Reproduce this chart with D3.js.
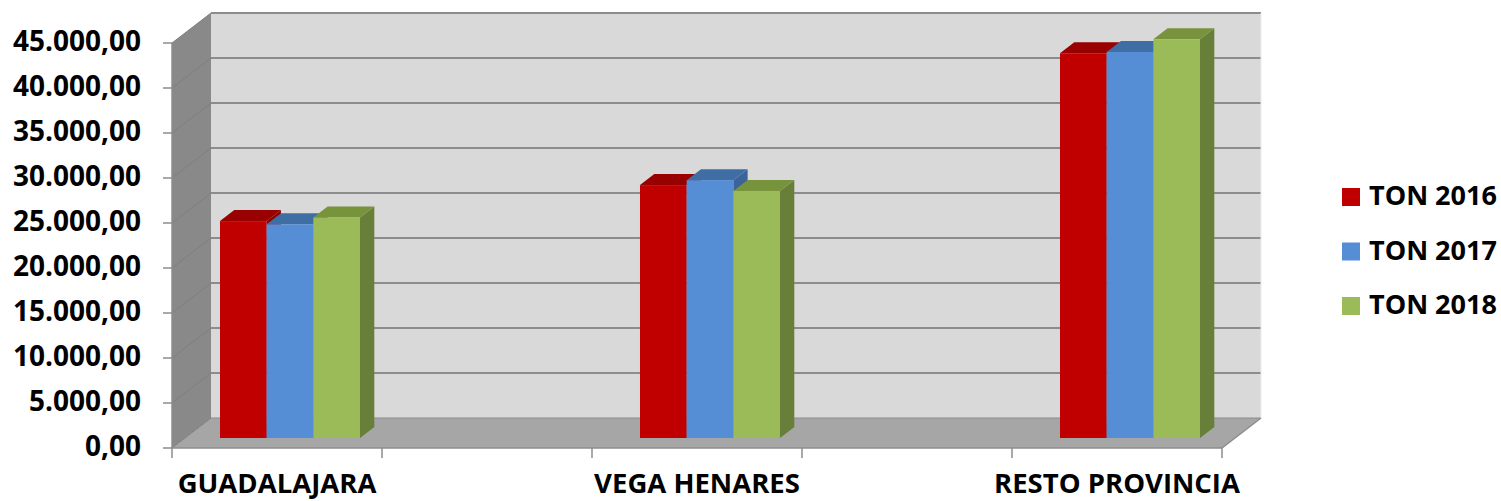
<!DOCTYPE html>
<html>
<head>
<meta charset="utf-8">
<script src="https://cdn.jsdelivr.net/npm/d3@7"></script>
<style>
  body { margin: 0; background: #fff; }
  text { font-family: "Open Sans", sans-serif; font-weight: bold; fill: #000; }
</style>
</head>
<body>
<div id="chart"></div>
<script>
// categories (blank slots are the empty columns between the groups)
const categories = ['GUADALAJARA', '', 'VEGA HENARES', '', 'RESTO PROVINCIA'];
const seriesNames = ['TON 2016', 'TON 2017', 'TON 2018'];
const ton2016 = [24100, null, 28100, null, 42750];
const ton2017 = [23750, null, 28650, null, 42900];
const ton2018 = [24500, null, 27450, null, 44300];
const yTicks = [0, 5000, 10000, 15000, 20000, 25000, 30000, 35000, 40000, 45000];

const seriesValues = [ton2016, ton2017, ton2018];
const colors = [
  { front: '#c00000', top: '#990000', side: '#8e0000' },
  { front: '#558ed5', top: '#3f6ea5', side: '#3a649a' },
  { front: '#9bbb59', top: '#77933c', side: '#677f38' }
];

const width = 1501, height = 501;
const plot = { left: 172, right: 1222, top: 43, bottom: 448 };
const depth = { dx: 39, dy: -30 };       // offset of back wall from front plane
const barDepth = [0.333, 0.7];           // front / back of bars, as share of depth

const svg = d3.select('#chart').append('svg')
  .attr('width', width)
  .attr('height', height);

const y = d3.scaleLinear().domain([0, 45000]).range([plot.bottom, plot.top]);
const x = d3.scaleBand().domain(d3.range(categories.length)).range([plot.left, plot.right]);

const off = f => [depth.dx * f, depth.dy * f];
const fmt = v => d3.format(',.2f')(v).replace(/,/g, '#').replace('.', ',').replace(/#/g, '.');

// walls
const y0 = y(0), yTop = y(45000);
svg.append('polygon') // back wall
  .attr('points', [[plot.left + depth.dx, yTop + depth.dy], [plot.right + depth.dx, yTop + depth.dy],
    [plot.right + depth.dx, y0 + depth.dy], [plot.left + depth.dx, y0 + depth.dy]].join(' '))
  .attr('fill', '#d9d9d9');
svg.append('polygon') // left wall
  .attr('points', [[plot.left, yTop], [plot.left + depth.dx, yTop + depth.dy],
    [plot.left + depth.dx, y0 + depth.dy], [plot.left, y0]].join(' '))
  .attr('fill', '#898989');
svg.append('polygon') // floor
  .attr('points', [[plot.left, y0], [plot.left + depth.dx, y0 + depth.dy],
    [plot.right + depth.dx, y0 + depth.dy], [plot.right, y0]].join(' '))
  .attr('fill', '#a6a6a6');

// gridlines on back and left wall
const grid = svg.append('g');
yTicks.forEach(v => {
  grid.append('line')
    .attr('x1', plot.left + depth.dx).attr('x2', plot.right + depth.dx)
    .attr('y1', y(v) + depth.dy).attr('y2', y(v) + depth.dy)
    .attr('stroke', '#8c8c8c').attr('stroke-width', v === 0 ? 1 : 2);
  grid.append('line')
    .attr('x1', plot.left).attr('x2', plot.left + depth.dx)
    .attr('y1', y(v)).attr('y2', y(v) + depth.dy)
    .attr('stroke', '#7f7f7f').attr('stroke-width', 1);
});
svg.append('line') // right edge of back wall
  .attr('x1', plot.right + depth.dx).attr('x2', plot.right + depth.dx)
  .attr('y1', yTop + depth.dy).attr('y2', y0 + depth.dy)
  .attr('stroke', '#ececec').attr('stroke-width', 1);
svg.append('line') // front edge of the floor
  .attr('x1', plot.left).attr('x2', plot.right)
  .attr('y1', y0).attr('y2', y0)
  .attr('stroke', '#8c8c8c').attr('stroke-width', 1.5);
svg.append('line') // front edge of the floor, right side
  .attr('x1', plot.right).attr('x2', plot.right + depth.dx)
  .attr('y1', y0).attr('y2', y0 + depth.dy)
  .attr('stroke', '#8c8c8c').attr('stroke-width', 1.5);
svg.append('line') // y axis line
  .attr('x1', plot.left).attr('x2', plot.left)
  .attr('y1', yTop).attr('y2', y0)
  .attr('stroke', '#8c8c8c').attr('stroke-width', 1.5);

// y axis ticks and labels
const yAxis = svg.append('g');
yTicks.forEach(v => {
  yAxis.append('line')
    .attr('x1', plot.left - 9).attr('x2', plot.left)
    .attr('y1', y(v)).attr('y2', y(v))
    .attr('stroke', '#8c8c8c').attr('stroke-width', 1.5);
  yAxis.append('text')
    .attr('x', 141).attr('y', y(v) + 1)
    .attr('text-anchor', 'end')
    .attr('dominant-baseline', 'middle')
    .style('font-size', '28px')
    .text(fmt(v));
});

// x axis ticks and labels
const xAxis = svg.append('g');
d3.range(categories.length + 1).forEach(i => {
  const xx = i < categories.length ? x(i) : plot.right;
  xAxis.append('line')
    .attr('x1', xx).attr('x2', xx)
    .attr('y1', y0).attr('y2', y0 + 10)
    .attr('stroke', '#8c8c8c').attr('stroke-width', 1.5);
});
categories.forEach((c, i) => {
  if (!c) return;
  xAxis.append('text')
    .attr('x', x(i) + x.bandwidth() / 2)
    .attr('y', 493)
    .attr('text-anchor', 'middle')
    .style('font-size', '27.5px')
    .text(c);
});

// 3d bars
const barW = x.bandwidth() / 4.5;
const [f1, f2] = barDepth;
const bars = svg.append('g');
categories.forEach((c, ci) => {
  seriesValues.forEach((vals, si) => {
    const v = vals[ci];
    if (v == null) return;
    const col = colors[si];
    const xl = x(ci) + 0.75 * barW + si * barW, xr = xl + barW;
    const [ax, ay] = off(f1), [bx, by] = off(f2);
    const yt = y(v), yb = y(0);
    bars.append('polygon') // side
      .attr('points', [[xr + ax, yt + ay], [xr + bx, yt + by], [xr + bx, yb + by], [xr + ax, yb + ay]].join(' '))
      .attr('fill', col.side);
    bars.append('polygon') // top
      .attr('points', [[xl + ax, yt + ay], [xr + ax, yt + ay], [xr + bx, yt + by], [xl + bx, yt + by]].join(' '))
      .attr('fill', col.top);
    bars.append('rect') // front
      .attr('x', xl + ax).attr('y', yt + ay)
      .attr('width', barW).attr('height', yb - yt)
      .attr('fill', col.front);
  });
});

// legend
const legend = svg.append('g');
seriesNames.forEach((s, i) => {
  const cy = 197 + i * 54.5;
  legend.append('rect')
    .attr('x', 1342).attr('y', cy - 9)
    .attr('width', 18).attr('height', 18)
    .attr('fill', colors[i].front);
  legend.append('text')
    .attr('x', 1369).attr('y', cy + 1)
    .attr('dominant-baseline', 'middle')
    .style('font-size', '27px')
    .text(s);
});
</script>
</body>
</html>
